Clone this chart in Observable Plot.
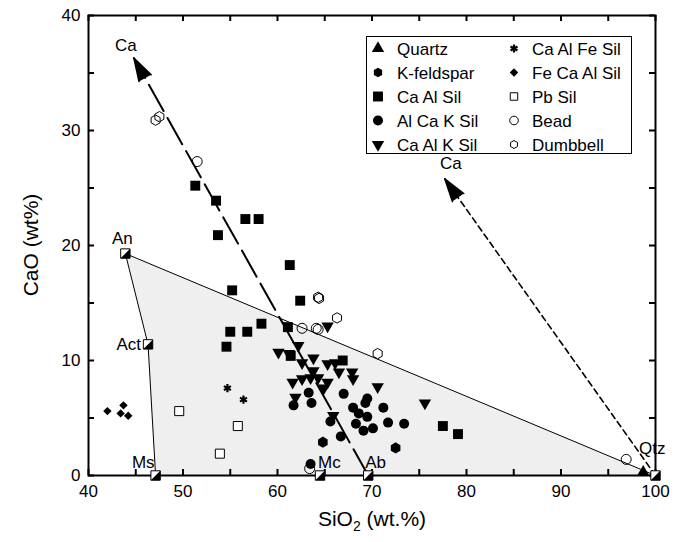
<!DOCTYPE html>
<html>
<head>
<meta charset="utf-8">
<script src="https://cdn.jsdelivr.net/npm/d3@7"></script>
<script src="https://cdn.jsdelivr.net/npm/@observablehq/plot@0.6"></script>
<style>
  html, body { margin: 0; padding: 0; background: #fff; }
  #wrap { position: relative; width: 685px; height: 542px; font-family: "Liberation Sans", Arial, sans-serif; }
  #legend { position: absolute; left: 0; top: 0; pointer-events: none; }
</style>
</head>
<body>
<div id="wrap"></div>
<script>
// ---------- data (SiO2 wt%, CaO wt%) ----------
const quartz = [[98.7, 0.3]];
const kFeldspar = [[72.5, 2.4], [64.8, 2.9]];
const caAlSil = [[51.3, 25.2], [53.5, 23.9], [56.6, 22.3], [58.0, 22.3], [53.7, 20.9], [61.3, 18.3],
  [55.2, 16.1], [62.4, 15.2], [58.3, 13.2], [61.1, 12.9], [55.0, 12.5], [56.8, 12.5], [54.6, 11.2],
  [61.4, 10.4], [66.9, 10.0], [77.5, 4.3], [79.1, 3.6]];
const alCaKSil = [[67.0, 7.1], [69.5, 6.7], [69.3, 6.3], [71.2, 5.9], [68.0, 5.9], [68.6, 5.4],
  [69.5, 5.1], [68.3, 4.5], [69.1, 3.9], [70.1, 4.1], [71.7, 4.6], [73.4, 4.5], [65.6, 4.7],
  [66.7, 3.4], [61.7, 6.1], [63.6, 6.3], [63.3, 7.2], [63.5, 1.0]];
const caAlKSil = [[65.3, 13.0], [62.2, 11.3], [60.1, 10.7], [61.2, 10.6], [62.6, 9.8], [63.8, 10.2],
  [65.3, 9.7], [66.1, 9.8], [66.5, 9.0], [67.9, 9.0], [68.0, 8.4], [63.8, 9.1], [61.6, 8.1],
  [62.6, 8.4], [63.5, 8.5], [64.3, 8.5], [65.3, 8.1], [64.9, 7.6], [61.9, 6.8], [70.6, 7.7],
  [75.6, 6.3], [65.9, 5.2]];
const caAlFeSil = [[54.7, 7.6], [56.4, 6.6]];
const feCaAlSil = [[42.0, 5.6], [43.7, 6.1], [43.4, 5.4], [44.2, 5.2]];
const pbSil = [[49.6, 5.6], [55.8, 4.3], [53.9, 1.9]];
const bead = [[51.5, 27.3], [62.6, 12.8], [64.1, 12.8], [64.3, 12.7], [63.4, 0.6], [96.9, 1.4]];
const dumbbell = [[47.1, 30.9], [47.5, 31.2], [64.3, 15.5], [64.4, 15.4], [66.3, 13.7], [70.6, 10.6]];

// end members (mineral compositions)
const endNames = ["An", "Act", "Ms", "Mc", "Ab", "Qtz"];
const endSiO2 = [43.9, 46.3, 47.1, 64.5, 69.6, 100];
const endCaO = [19.3, 11.4, 0, 0, 0, 0];
// mixing field outline: An -> Qtz -> Ms -> Act -> An
const fieldOrder = ["An", "Qtz", "Ms", "Act", "An"];

// Ca trend arrows: [start, tip]
const caArrow1 = [[69.6, 0], [44.8, 36.3]];
const caArrow2 = [[100, 0], [77.7, 25.8]];

// axes
const xDomain = [40, 100];
const yDomain = [0, 40];
const xTickLabels = [40, 50, 60, 70, 80, 90, 100];
const yTickLabels = [0, 10, 20, 30, 40];
const xMinorTicks = d3.range(40, 101, 5);
const yMinorTicks = d3.range(0, 41, 5);
const xTitle = ["SiO", "2", " (wt.%)"];
const yTitle = "CaO (wt%)";

const legendItems = ["Quartz", "K-feldspar", "Ca Al Sil", "Al Ca K Sil", "Ca Al K Sil",
  "Ca Al Fe Sil", "Fe Ca Al Sil", "Pb Sil", "Bead", "Dumbbell"];

// ---------- layout ----------
const W = 685, H = 542, mL = 88, mR = 30, mT = 15, mB = 67;
const kx = (W - mL - mR) / (xDomain[1] - xDomain[0]);
const ky = (H - mT - mB) / (yDomain[1] - yDomain[0]);
const tickPx = 6;
const FONT = "'Liberation Sans', Arial, sans-serif";

const ends = endNames.map((n, i) => ({name: n, x: endSiO2[i], y: endCaO[i]}));
const field = fieldOrder.map(n => ends.find(e => e.name === n));

const halfSquare = {
  draw(ctx, size) {
    const s = Math.sqrt(size) / 2;
    ctx.moveTo(-s, s); ctx.lineTo(s, -s); ctx.lineTo(s, s); ctx.closePath();
  }
};

function angleOf(a) {
  const dx = (a[1][0] - a[0][0]) * kx, dy = (a[1][1] - a[0][1]) * ky;
  return Math.atan2(dx, dy) * 180 / Math.PI;
}
const px = d => d[0], py = d => d[1];
const lbl = (name, opts) => Plot.text(ends.filter(e => e.name === name),
  {x: "x", y: "y", text: "name", fontSize: 17, fill: "black", ...opts});

const chart = Plot.plot({
  width: W, height: H,
  marginLeft: mL, marginRight: mR, marginTop: mT, marginBottom: mB,
  x: {domain: xDomain},
  y: {domain: yDomain},
  style: {fontFamily: FONT, fontSize: "17px", color: "black", background: "white"},
  marks: [
    // mixing field
    Plot.line(field, {x: "x", y: "y", fill: "#efefef", stroke: "black", strokeWidth: 1}),
    // Ca trend lines
    Plot.line(caArrow1, {x: px, y: py, stroke: "black", strokeWidth: 2, strokeDasharray: "30,8"}),
    Plot.line(caArrow2, {x: px, y: py, stroke: "black", strokeWidth: 1.6, strokeDasharray: "6,4"}),
    Plot.vector([caArrow1[1]], {x: px, y: py, shape: "spike", anchor: "end", length: 23, r: 7,
      rotate: angleOf(caArrow1), fill: "black", stroke: "black"}),
    Plot.vector([caArrow2[1]], {x: px, y: py, shape: "spike", anchor: "end", length: 23, r: 7,
      rotate: angleOf(caArrow2), fill: "black", stroke: "black"}),
    Plot.text([caArrow1[1]], {x: px, y: py, text: () => "Ca", dx: -8, dy: -13, fontSize: 17}),
    Plot.text([caArrow2[1]], {x: px, y: py, text: () => "Ca", dx: 6, dy: -15, fontSize: 17}),
    // frame & ticks
    Plot.frame({stroke: "black", strokeWidth: 2}),
    Plot.ruleX(xMinorTicks, {x: d => d, y1: yDomain[0], y2: yDomain[0] + tickPx / ky, strokeWidth: 2}),
    Plot.ruleX(xMinorTicks, {x: d => d, y1: yDomain[1] - tickPx / ky, y2: yDomain[1], strokeWidth: 2}),
    Plot.ruleY(yMinorTicks, {y: d => d, x1: xDomain[0], x2: xDomain[0] + tickPx / kx, strokeWidth: 2}),
    Plot.ruleY(yMinorTicks, {y: d => d, x1: xDomain[1] - tickPx / kx, x2: xDomain[1], strokeWidth: 2}),
    Plot.axisX({ticks: xTickLabels, tickSize: 0, tickPadding: 9, fontSize: 17, label: null}),
    Plot.axisY({ticks: yTickLabels, tickSize: 0, tickPadding: 8, fontSize: 17, label: null}),
    Plot.text([xTitle.join("")], {frameAnchor: "bottom", dy: 50, fontSize: 21, text: d => d}),
    // data
    Plot.dot(pbSil, {x: px, y: py, symbol: "square", r: 5.1, fill: "white", stroke: "black", strokeWidth: 1}),
    Plot.dot(feCaAlSil, {x: px, y: py, symbol: "diamond2", r: 3.8, fill: "black"}),
    Plot.dot(caAlFeSil, {x: px, y: py, symbol: "asterisk", r: 3.8, stroke: "black", strokeWidth: 2.2}),
    Plot.dot(caAlSil, {x: px, y: py, symbol: "square", r: 5.6, fill: "black"}),
    Plot.dot(alCaKSil, {x: px, y: py, symbol: "circle", r: 5, fill: "black"}),
    Plot.dot(kFeldspar, {x: px, y: py, symbol: "hexagon", r: 4.8, fill: "black"}),
    Plot.dot(caAlKSil, {x: px, y: py, symbol: "triangle", r: 4.6, rotate: 180, fill: "black"}),
    Plot.dot(quartz, {x: px, y: py, symbol: "triangle", r: 4.6, fill: "black"}),
    Plot.dot(bead, {x: px, y: py, symbol: "circle", r: 5, fill: "none", stroke: "black", strokeWidth: 1}),
    Plot.dot(dumbbell, {x: px, y: py, symbol: "hexagon", r: 4.5, fill: "none", stroke: "black", strokeWidth: 1}),
    // end members
    Plot.dot(ends, {x: "x", y: "y", symbol: "square", r: 5.3, fill: "white", stroke: "black", strokeWidth: 1}),
    Plot.dot(ends, {x: "x", y: "y", symbol: halfSquare, r: 5.3, fill: "black"}),
    lbl("An", {dx: -3, dy: -15}),
    lbl("Act", {dx: -7, textAnchor: "end"}),
    lbl("Ms", {dx: -1, dy: -13, textAnchor: "end"}),
    lbl("Mc", {dx: -2, dy: -13, textAnchor: "start"}),
    lbl("Ab", {dx: -3, dy: -13, textAnchor: "start"}),
    lbl("Qtz", {dx: 10, dy: -27, textAnchor: "end"})
  ]
});

const wrap = document.getElementById("wrap");
wrap.appendChild(chart);

// subscript in x title
d3.select(chart).selectAll("text").filter(function() { return this.textContent === xTitle.join(""); })
  .each(function() {
    const t = d3.select(this);
    t.text(null);
    t.append("tspan").text(xTitle[0]);
    t.append("tspan").attr("font-size", 14).attr("dy", 5).text(xTitle[1]);
    t.append("tspan").attr("dy", -5).text(xTitle[2]);
  });

// y title (rotated), centred on the plot frame
d3.select(chart).append("text")
  .attr("transform", `translate(30,${mT + (H - mT - mB) / 2}) rotate(-90)`)
  .attr("text-anchor", "middle").attr("dy", "0.36em")
  .attr("font-size", 21).attr("font-family", FONT).attr("fill", "black")
  .text(yTitle);

// ---------- legend (inside the plot, top right) ----------
const hexPath = r => {
  const p = d3.path();
  for (let i = 0; i < 6; i++) {
    const a = Math.PI / 6 + i * Math.PI / 3;
    const X = r * Math.cos(a), Y = r * Math.sin(a);
    i ? p.lineTo(X, Y) : p.moveTo(X, Y);
  }
  p.closePath();
  return p.toString();
};
const sym = (type, r) => d3.symbol(type, Math.PI * r * r)();
const legendSymbols = {
  "Quartz": {d: sym(d3.symbolTriangle, 4.6), fill: "black"},
  "K-feldspar": {d: hexPath(4.8), fill: "black"},
  "Ca Al Sil": {d: sym(d3.symbolSquare, 5.6), fill: "black"},
  "Al Ca K Sil": {d: sym(d3.symbolCircle, 5), fill: "black"},
  "Ca Al K Sil": {d: sym(d3.symbolTriangle, 4.6), fill: "black", rotate: 180},
  "Ca Al Fe Sil": {d: sym(d3.symbolAsterisk, 3.8), fill: "none", stroke: "black", sw: 2.2},
  "Fe Ca Al Sil": {d: sym(d3.symbolDiamond2, 3.8), fill: "black"},
  "Pb Sil": {d: sym(d3.symbolSquare, 4.2), fill: "white", stroke: "black", sw: 1},
  "Bead": {d: sym(d3.symbolCircle, 4.3), fill: "white", stroke: "black", sw: 1},
  "Dumbbell": {d: hexPath(4), fill: "white", stroke: "black", sw: 1}
};
const L = {x: 366, y: 36, w: 265, h: 117, row0: 48.5, rowStep: 24, col: [[378, 397], [514, 532]]};
const lg = d3.select(wrap).append("svg").attr("id", "legend").attr("width", W).attr("height", H);
lg.append("rect").attr("x", L.x + 0.5).attr("y", L.y + 0.5).attr("width", L.w).attr("height", L.h)
  .attr("fill", "white").attr("stroke", "black").attr("stroke-width", 1);
legendItems.forEach((name, i) => {
  const c = Math.floor(i / 5), r = i % 5;
  const cy = L.row0 + r * L.rowStep;
  const s = legendSymbols[name];
  lg.append("path").attr("d", s.d)
    .attr("transform", `translate(${L.col[c][0]},${cy})` + (s.rotate ? ` rotate(${s.rotate})` : ""))
    .attr("fill", s.fill).attr("stroke", s.stroke || "none").attr("stroke-width", s.sw || 0);
  lg.append("text").attr("x", L.col[c][1]).attr("y", cy).attr("dy", "0.36em")
    .attr("font-size", 17).attr("font-family", FONT).text(name);
});
</script>
</body>
</html>
